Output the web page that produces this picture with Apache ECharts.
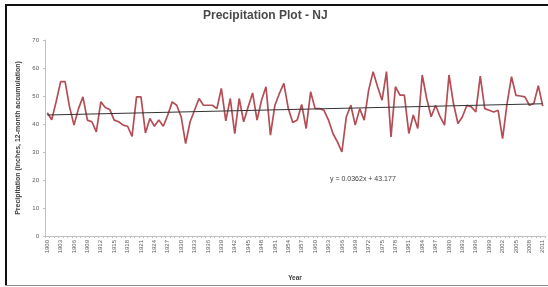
<!DOCTYPE html>
<html>
<head>
<meta charset="utf-8">
<script src="https://cdn.jsdelivr.net/npm/echarts@6/dist/echarts.min.js"></script>
<style>
  html, body { margin: 0; padding: 0; background: #fff; }
  #chart { width: 548px; height: 287px; }
</style>
</head>
<body>
<div id="chart"></div>
<script>
// ---- data ----
const startYear = 1900;
const endYear = 2011;
const years = [];
for (let y = startYear; y <= endYear; y++) years.push(String(y));

const precipitation = [
  44.0, 41.5, 48.0, 55.1, 55.1, 46.1, 39.6, 45.5, 49.7, 41.4,
  40.8, 37.2, 47.9, 45.9, 45.2, 41.4, 40.8, 39.6, 39.2, 35.6,
  49.7, 49.7, 36.8, 42.0, 39.2, 41.4, 39.2, 43.2, 47.9, 46.7,
  42.6, 33.0, 40.8, 44.9, 49.1, 46.7, 46.7, 46.7, 45.5, 52.7,
  41.1, 49.1, 36.6, 49.1, 40.8, 46.1, 51.1, 41.4, 48.5, 53.3,
  36.0, 46.7, 50.9, 54.5, 45.5, 40.5, 41.4, 47.0, 38.4, 51.5,
  45.5, 45.5, 44.9, 41.4, 36.6, 33.6, 30.0, 42.6, 46.7, 39.6,
  45.5, 41.4, 52.1, 58.7, 53.3, 48.5, 58.7, 35.4, 53.3, 50.3,
  50.3, 36.6, 43.2, 38.4, 57.5, 49.1, 42.6, 46.7, 42.6, 39.6,
  57.5, 47.3, 40.2, 42.6, 46.7, 46.1, 44.3, 57.1, 45.5, 44.9,
  44.3, 44.9, 34.8, 47.3, 56.9, 50.2, 50.0, 49.7, 46.7, 47.3,
  53.7, 46.4
];

// linear trendline (Excel style, x = 1..n)
const trendSlope = 0.0362;
const trendIntercept = 43.177;
const trendLabel = 'y = 0.0362x + 43.177';

const titleText = 'Precipitation Plot - NJ';
const yAxisTitle = 'Precipitation (inches, 12-month accumulation)';
const xAxisTitle = 'Year';

const n = precipitation.length;
const trendStart = trendIntercept + trendSlope * 1;
const trendEnd = trendIntercept + trendSlope * n;

const chart = echarts.init(document.getElementById('chart'), null, { renderer: 'canvas' });
const font = 'Liberation Sans, Arial, sans-serif';

chart.setOption({
  animation: false,
  backgroundColor: '#ffffff',
  title: {
    text: titleText,
    left: 203,
    top: 10,
    padding: 0,
    textStyle: { fontFamily: font, fontSize: 12, fontWeight: 'bold', color: '#4a4a4a' }
  },
  grid: { left: 45, right: 3, top: 40, bottom: 51, containLabel: false },
  xAxis: {
    type: 'category',
    data: years,
    boundaryGap: true,
    name: xAxisTitle,
    nameLocation: 'middle',
    nameGap: 39,
    nameTextStyle: { fontFamily: font, fontSize: 6.5, fontWeight: 'bold', color: '#404040' },
    axisLine: { lineStyle: { color: '#bfbfbf', width: 1 } },
    axisTick: { show: true, interval: 0, length: 2, lineStyle: { color: '#bfbfbf' } },
    axisLabel: {
      interval: 2,
      rotate: 90,
      fontFamily: font,
      fontSize: 6,
      color: '#595959',
      margin: 4
    },
    splitLine: { show: false }
  },
  yAxis: {
    type: 'value',
    min: 0,
    max: 70,
    interval: 10,
    name: yAxisTitle,
    nameLocation: 'middle',
    nameRotate: 90,
    nameGap: 23,
    nameTextStyle: { fontFamily: font, fontSize: 7, fontWeight: 'bold', color: '#404040' },
    axisLine: { show: true, lineStyle: { color: '#bfbfbf', width: 1 } },
    axisTick: { show: true, length: 2, lineStyle: { color: '#bfbfbf' } },
    axisLabel: { fontFamily: font, fontSize: 6, color: '#595959', margin: 6 },
    splitLine: { show: false }
  },
  series: [
    {
      type: 'line',
      data: precipitation,
      showSymbol: false,
      symbol: 'none',
      lineStyle: { color: '#b44d55', width: 1.7 },
      itemStyle: { color: '#b44d55' },
      markLine: {
        silent: true,
        symbol: ['none', 'none'],
        label: { show: false },
        lineStyle: { color: '#333333', width: 1, type: 'solid' },
        data: [[
          { coord: [years[0], trendStart] },
          { coord: [years[n - 1], trendEnd] }
        ]]
      }
    }
  ],
  graphic: [
    { type: 'text', x: 330, y: 176, style: { text: trendLabel, font: '7px ' + font, fill: '#404040' } },
    { type: 'rect', shape: { x: 5, y: 4, width: 2, height: 282 }, style: { fill: '#111' } },
    { type: 'rect', shape: { x: 5, y: 4, width: 543, height: 2 }, style: { fill: '#111' } },
    { type: 'rect', shape: { x: 5, y: 285, width: 543, height: 1 }, style: { fill: '#8c8c8c' } }
  ]
});
</script>
</body>
</html>
